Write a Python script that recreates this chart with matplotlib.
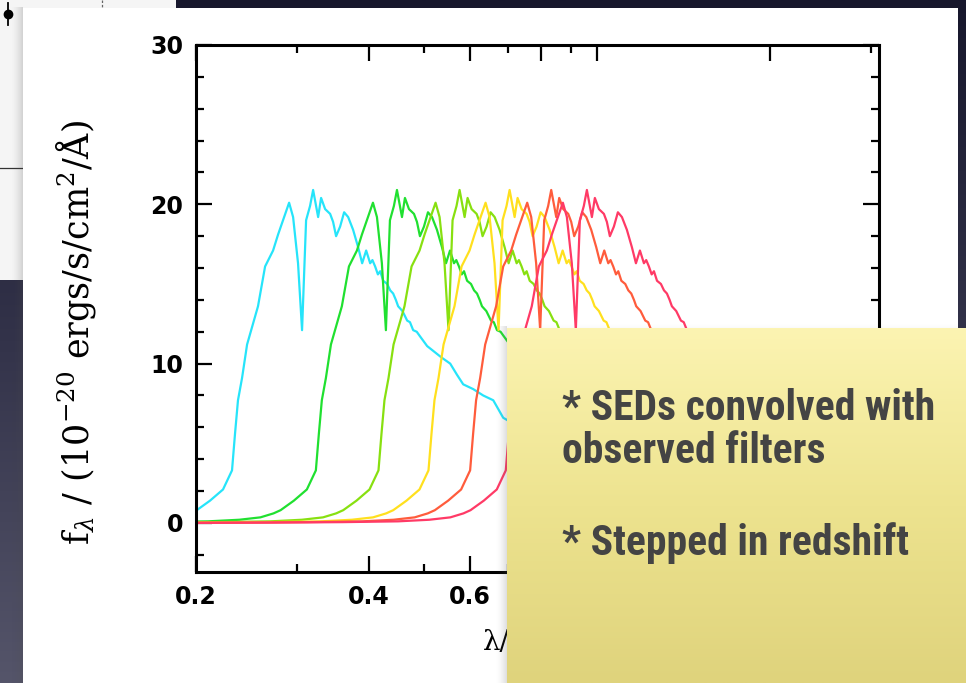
import numpy as np
import matplotlib
matplotlib.use("Agg")
import matplotlib.pyplot as plt
from matplotlib import font_manager as fm
from matplotlib.font_manager import FontProperties
from matplotlib.colors import LinearSegmentedColormap
from matplotlib.patches import Rectangle
from matplotlib.ticker import NullFormatter

# ---------------- data ----------------
# SED template (wavelength in micron for the first / cyan curve) and flux
template_wave = [0.060, 0.090, 0.120, 0.150, 0.170, 0.185, 0.195, 0.2006, 0.2116,
                 0.2229, 0.2311, 0.2339, 0.2367, 0.2406, 0.2455, 0.2514, 0.2565,
                 0.2639, 0.2725, 0.2780, 0.2836, 0.2906, 0.2953, 0.3012, 0.3061,
                 0.3111, 0.3161, 0.3200, 0.3265, 0.3304, 0.3358, 0.3426, 0.3467,
                 0.3509, 0.3566, 0.3624, 0.3683, 0.3757, 0.3834, 0.3896, 0.3959,
                 0.4023, 0.4060, 0.4104, 0.4150, 0.4188, 0.4240, 0.4307, 0.4360,
                 0.4412, 0.4460, 0.4501, 0.4580, 0.4667, 0.4720, 0.4781, 0.4850,
                 0.4917, 0.5057, 0.5181, 0.5350, 0.5547, 0.5700, 0.5844, 0.6084,
                 0.6333, 0.6593, 0.6862, 0.75, 0.85, 1.0, 1.1]
template_flux = [0.00, 0.02, 0.05, 0.10, 0.20, 0.35, 0.60, 0.8, 1.4,
                 2.1, 3.3, 5.6, 7.7, 9.1, 11.2, 12.5, 13.6,
                 16.1, 17.1, 18.1, 19.0, 20.1, 19.2, 16.3, 12.1,
                 19.0, 19.9, 20.9, 19.2, 20.4, 19.7, 19.4, 18.9,
                 18.0, 18.6, 19.5, 19.2, 18.4, 17.3, 16.3, 17.1,
                 16.3, 16.5, 16.1, 15.6, 15.8, 15.2, 15.0, 14.6,
                 14.4, 14.0, 13.6, 13.3, 12.7, 12.6, 12.1, 12.0,
                 11.7, 11.1, 10.8, 10.4, 10.0, 9.3, 8.7, 8.4,
                 8.0, 7.7, 6.6, 5.8, 5.0, 4.2, 3.8]
# redshift steps relative to the first curve
redshift_steps = [0.0, 0.4, 0.8, 1.2, 1.6, 2.0]
curve_colors = ["#26e4fa", "#20e030", "#88e010", "#ffe01e", "#ff5c3c", "#ff3a66"]

x_major = [0.2, 0.4, 0.6, 0.8, 1.0, 2.0]
x_major_labels = ["0.2", "0.4", "0.6", "0.8", "1", "2"]
x_minor = [0.3, 0.5, 0.7, 0.9, 3.0]
y_major = [0, 10, 20, 30]
y_minor = [-2, 2, 4, 6, 8, 12, 14, 16, 18, 22, 24, 26, 28]

ylabel_text = r"f$_\lambda$ / (10$^{-20}$ ergs/s/cm$^2$/Å)"
xlabel_text = "λ/μm"
note_lines = ["* SEDs convolved with", "observed filters", "* Stepped in redshift"]

# ---------------- figure ----------------
W, H = 966, 683
plt.rcParams["font.family"] = ["DejaVu Sans"]
plt.rcParams["mathtext.fontset"] = "dejavuserif"
fig = plt.figure(figsize=(W / 100, H / 100), dpi=100)
fig.patch.set_facecolor("#1a1a2e")

# background layer in pixel coordinates
bg = fig.add_axes([0, 0, 1, 1], zorder=0)
bg.set_xlim(0, W)
bg.set_ylim(H, 0)
bg.axis("off")
cmap_bg = LinearSegmentedColormap.from_list("bg", ["#17172c", "#33334a", "#55556a"])
bg.imshow(np.linspace(0, 1, 256)[:, None], cmap=cmap_bg, extent=(0, W, H, 0),
          aspect="auto", zorder=0)
# back slide panel
bg.add_patch(Rectangle((0, 0), 176, 280, fc="#f5f5f5", ec="none", zorder=1))
bg.plot([0, 23], [168, 168], color="#333333", lw=0.9, zorder=2)
bg.plot([8, 8], [3, 25], color="black", lw=1.3, zorder=2)
bg.plot([8], [14], "o", ms=6, color="black", zorder=2)
bg.plot([102, 102], [0, 9], color="#666666", lw=0.9, ls=(0, (2, 1.5)), zorder=2)
# shadow of front panel
sh = np.zeros((1, 30, 4))
sh[..., :3] = 0.3
sh[0, :, 3] = np.linspace(0, 0.35, 30) ** 1.5
bg.imshow(sh, extent=(11, 23, H, 7), aspect="auto", zorder=3)
# front white panel
bg.add_patch(Rectangle((23, 7.5), 958 - 23, H - 7.5, fc="white", ec="none", zorder=4))

# ---------------- data axes ----------------
ax = fig.add_axes([196 / W, 1 - 572 / H, (879 - 196) / W, (572 - 45) / H], zorder=1)
ax.set_facecolor("none")
tw = np.array(template_wave)
for z, c in zip(redshift_steps, curve_colors):
    ax.plot(tw * (1 + z), template_flux, color=c, lw=1.6, solid_joinstyle="round")

ax.set_xscale("log")
ax.set_xlim(0.2, 3.1)
ax.set_ylim(-3.08, 30)
ax.set_xticks(x_major)
ax.set_xticklabels(x_major_labels)
ax.set_xticks(x_minor, minor=True)
ax.xaxis.set_minor_formatter(NullFormatter())
ax.set_yticks(y_major)
ax.set_yticks(y_minor, minor=True)
ax.tick_params(which="both", direction="in", top=True, right=True, width=1.6,
               colors="black", labelsize=17, pad=9)
ax.tick_params(which="major", length=11.5)
ax.tick_params(which="minor", length=5.8)
for lbl in ax.get_xticklabels() + ax.get_yticklabels():
    lbl.set_fontweight("bold")
    lbl.set_fontfamily("DejaVu Sans")
for s in ax.spines.values():
    s.set_linewidth(2.2)
    s.set_color("black")

renderer = fig.canvas.get_renderer()

# y label (fit to length of the original)
yl = fig.text(76 / W, 1 - 332 / H, ylabel_text, rotation=90, ha="center", va="center",
              fontsize=20, family="DejaVu Serif", weight="normal", color="black", zorder=5)
bb = yl.get_window_extent(renderer)
yl.set_fontsize(20 * 425 / bb.height)

fig.text(483 / W, 1 - 650 / H, xlabel_text, ha="left", va="baseline", fontsize=20,
         family="DejaVu Serif", weight="normal", color="black", zorder=5)

# ---------------- sticky note overlay ----------------
ov = fig.add_axes([0, 0, 1, 1], zorder=10)
ov.set_xlim(0, W)
ov.set_ylim(H, 0)
ov.axis("off")
# shadows
shl = np.zeros((1, 30, 4))
shl[..., :3] = 0.35
shl[0, :, 3] = np.linspace(0, 0.45, 30) ** 2
ov.imshow(shl, extent=(494, 507, H, 326), aspect="auto", zorder=1)
sht = np.zeros((30, 1, 4))
sht[..., :3] = 0.4
sht[:, 0, 3] = np.linspace(0, 0.18, 30) ** 2
ov.imshow(sht, extent=(507, W, 328, 322), aspect="auto", zorder=1)
cmap_note = LinearSegmentedColormap.from_list("note", ["#fcf4b2", "#ede38f", "#dfd37c"])
ov.imshow(np.linspace(0, 1, 256)[:, None], cmap=cmap_note, extent=(507, W, H, 328),
          aspect="auto", zorder=2)

# choose a narrow bold font if available
names = {f.name for f in fm.fontManager.ttflist}
note_fp = None
for nm in ["Liberation Sans Narrow", "Roboto Condensed", "Open Sans Condensed",
           "Noto Sans Condensed", "DejaVu Sans Condensed"]:
    if nm in names:
        note_fp = FontProperties(family=nm, weight="bold")
        break
if note_fp is None:
    cands = [f for f in fm.fontManager.ttflist
             if "condensed" in str(f.stretch).lower() or "narrow" in f.name.lower()]
    bold = [f for f in cands if str(f.weight) in ("bold", "700", "heavy", "black")]
    pick = (bold or cands)
    if pick:
        note_fp = FontProperties(fname=pick[0].fname)
    else:
        note_fp = FontProperties(family="Roboto", weight="bold")

baselines = [420, 463, 555]
texts = []
for line, yb in zip(note_lines, baselines):
    t = ov.text(562, yb, line, ha="left", va="baseline", color="#444444",
                fontproperties=note_fp, fontsize=30, zorder=3)
    texts.append(t)
w0 = texts[0].get_window_extent(renderer).width
for t in texts:
    t.set_fontsize(30 * 373 / w0)

fig.savefig("out.png", dpi=100, facecolor=fig.get_facecolor())
